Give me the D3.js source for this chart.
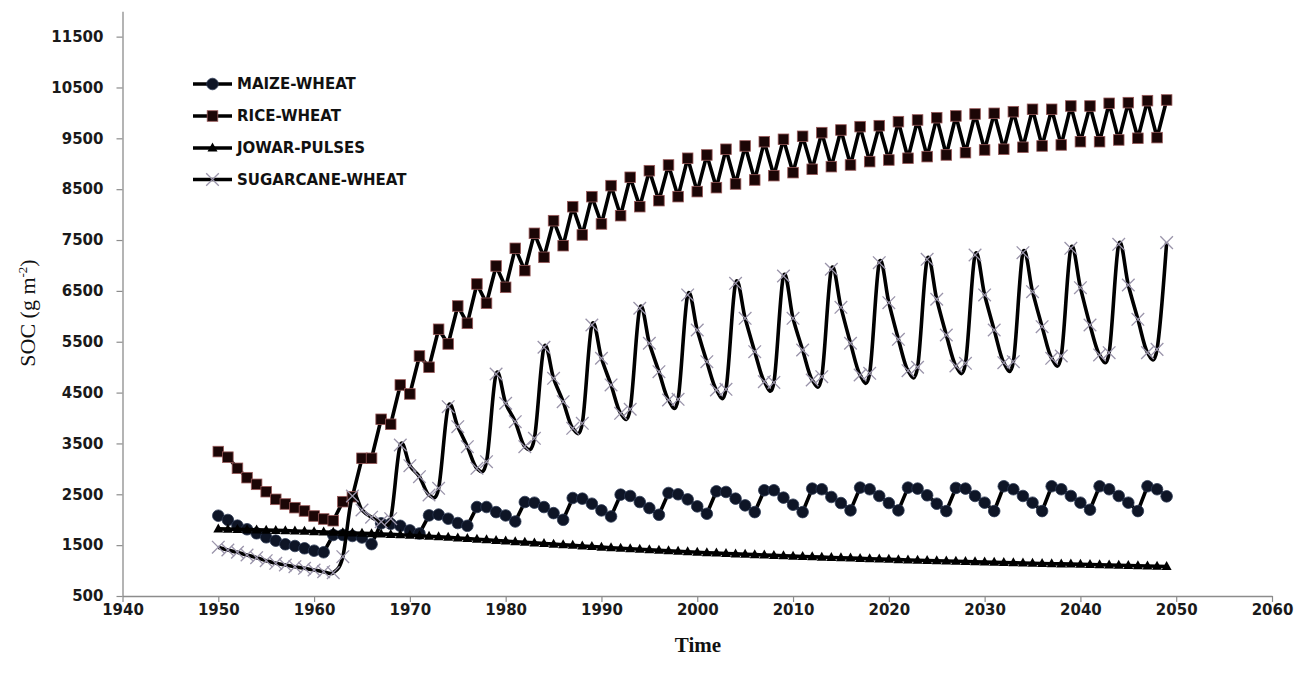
<!DOCTYPE html>
<html>
<head>
<meta charset="utf-8">
<script src="https://cdn.jsdelivr.net/npm/d3@7"></script>
<style>
  html, body { margin: 0; padding: 0; background: #fff; }
  svg { display: block; }
</style>
</head>
<body>
<svg id="chart" width="1297" height="679"></svg>
<script>
// ---------------- DATA ----------------
const firstYear = 1950;
const seriesNames = ["MAIZE-WHEAT", "RICE-WHEAT", "JOWAR-PULSES", "SUGARCANE-WHEAT"];
const xTickValues = [1940, 1950, 1960, 1970, 1980, 1990, 2000, 2010, 2020, 2030, 2040, 2050, 2060];
const yTickValues = [500, 1500, 2500, 3500, 4500, 5500, 6500, 7500, 8500, 9500, 10500, 11500];

// annual values 1950..2049
const maizeWheat = [
  2079, 1995, 1883, 1812, 1733, 1654, 1588, 1517, 1483, 1438,
  1391, 1360, 1700, 1700, 1680, 1650, 1520, 1930, 1920, 1880,
  1790, 1730, 2085, 2100, 2020, 1935, 1880, 2250, 2250, 2150,
  2084, 1965, 2348, 2335, 2249, 2130, 1998, 2427, 2414, 2315,
  2183, 2064, 2493, 2467, 2348, 2229, 2097, 2526, 2500, 2401,
  2262, 2117, 2559, 2546, 2414, 2282, 2150, 2579, 2579, 2434,
  2295, 2150, 2612, 2599, 2447, 2328, 2183, 2632, 2599, 2467,
  2328, 2183, 2632, 2612, 2480, 2315, 2170, 2625, 2612, 2467,
  2335, 2170, 2658, 2599, 2467, 2335, 2170, 2658, 2599, 2467,
  2335, 2196, 2658, 2599, 2467, 2335, 2170, 2658, 2599, 2460
];
const riceWheat = [
  3340, 3230, 3011, 2827, 2696, 2551, 2401, 2309, 2237, 2172,
  2073, 2014, 1981, 2355, 2453, 3208, 3208, 3975, 3877, 4650,
  4473, 5220, 4998, 5745, 5456, 6203, 5862, 6636, 6256, 6990,
  6570, 7337, 6898, 7632, 7160, 7881, 7389, 8156, 7600, 8353,
  7816, 8570, 7979, 8734, 8156, 8864, 8274, 8976, 8353, 9108,
  8452, 9173, 8530, 9285, 8602, 9350, 8681, 9434, 8766, 9481,
  8825, 9540, 8891, 9612, 8943, 9664, 8976, 9730, 9042, 9749,
  9074, 9828, 9108, 9861, 9140, 9906, 9173, 9940, 9218, 9979,
  9271, 9992, 9285, 10024, 9324, 10071, 9350, 10071, 9370, 10136,
  9434, 10136, 9434, 10189, 9468, 10202, 9501, 10241, 9514, 10254
];
const jowarPulses = [
  1820, 1815, 1810, 1805, 1800, 1795, 1790, 1785, 1778, 1772,
  1765, 1758, 1752, 1746, 1740, 1733, 1726, 1719, 1711, 1703,
  1695, 1685, 1675, 1664, 1653, 1641, 1629, 1617, 1605, 1592,
  1580, 1568, 1556, 1544, 1532, 1520, 1508, 1496, 1484, 1472,
  1461, 1450, 1439, 1428, 1418, 1408, 1398, 1388, 1379, 1370,
  1361, 1352, 1344, 1336, 1328, 1320, 1313, 1305, 1298, 1291,
  1284, 1277, 1270, 1264, 1257, 1251, 1245, 1239, 1233, 1227,
  1221, 1215, 1209, 1203, 1198, 1192, 1187, 1182, 1177, 1172,
  1167, 1162, 1157, 1153, 1148, 1144, 1139, 1135, 1131, 1127,
  1123, 1119, 1115, 1110, 1105, 1100, 1095, 1090, 1085, 1080
];
const sugarcaneWheat = [
  1460, 1405, 1360, 1306, 1254, 1194, 1143, 1110, 1077, 1044,
  1011, 978, 958, 1273, 2467, 2191, 2050, 1960, 2020, 3470,
  3063, 2846, 2486, 2618, 4223, 3830, 3437, 3011, 3141, 4866,
  4290, 3928, 3437, 3601, 5391, 4781, 4322, 3798, 3896, 5829,
  5175, 4650, 4093, 4172, 6158, 5470, 4911, 4354, 4368, 6420,
  5731, 5108, 4551, 4564, 6649, 5961, 5305, 4715, 4700, 6793,
  5961, 5338, 4748, 4813, 6925, 6177, 5470, 4846, 4879, 7055,
  6268, 5548, 4931, 4998, 7121, 6335, 5633, 5023, 5076, 7206,
  6420, 5731, 5088, 5108, 7252, 6485, 5796, 5174, 5220, 7337,
  6563, 5829, 5240, 5285, 7416, 6616, 5941, 5286, 5350, 7449
];

const xLabel = "Time";

// ---------------- LAYOUT ----------------
const svg = d3.select("#chart");
const x = d3.scaleLinear().domain([1940, 2060]).range([122.5, 1272]);
const y = d3.scaleLinear().domain([500, 12000]).range([596, 11.2]);

const axisColor = "#8c8c8c";
const tickFont = "'DejaVu Sans', Verdana, sans-serif";

// X axis
const gx = svg.append("g").attr("transform", `translate(0,${y(500)})`)
  .call(d3.axisBottom(x).tickValues(xTickValues).tickFormat(d3.format("d")).tickSize(6).tickPadding(2).tickSizeOuter(0));
gx.select(".domain").attr("stroke", axisColor).attr("stroke-width", 1.3);
gx.selectAll(".tick line").attr("stroke", axisColor).attr("stroke-width", 1.2);
gx.selectAll(".tick text").attr("fill", "#1a1a1a").style("font-family", tickFont)
  .style("font-size", "15px").style("font-weight", "bold");

// Y axis
const gy = svg.append("g").attr("transform", `translate(${x(1940)},0)`)
  .call(d3.axisLeft(y).tickValues(yTickValues).tickFormat(d3.format("d")).tickSize(6).tickPadding(13).tickSizeOuter(0));
gy.select(".domain").attr("stroke", axisColor).attr("stroke-width", 1.3);
gy.selectAll(".tick line").attr("stroke", axisColor).attr("stroke-width", 1.2);
gy.selectAll(".tick text").attr("fill", "#1a1a1a").style("font-family", tickFont)
  .style("font-size", "15px").style("font-weight", "bold");

// Axis titles
svg.append("text")
  .attr("x", 698).attr("y", 652)
  .attr("text-anchor", "middle")
  .style("font-family", "'Liberation Serif', 'Times New Roman', serif")
  .style("font-size", "21px").style("font-weight", "bold")
  .attr("fill", "#111")
  .text(xLabel);

const yTitle = svg.append("text")
  .attr("transform", "translate(35,313) rotate(-90)")
  .attr("text-anchor", "middle")
  .attr("fill", "#111")
  .style("font-size", "22px");
yTitle.append("tspan").style("font-family", "'Liberation Serif', 'Times New Roman', serif").text("SOC (g m");
yTitle.append("tspan").style("font-family", "'Liberation Serif', 'Times New Roman', serif")
  .style("font-size", "13px").attr("dy", "-8").text("-2");
yTitle.append("tspan").style("font-family", "'Liberation Serif', 'Times New Roman', serif")
  .attr("dy", "8").text(")");

// ---------------- SERIES ----------------
const toPts = arr => arr.map((v, i) => [firstYear + i, v]);
const lineStraight = d3.line().x(d => x(d[0])).y(d => y(d[1]));
const lineSmooth = d3.line().x(d => x(d[0])).y(d => y(d[1])).curve(d3.curveCatmullRom.alpha(0));

const seriesDefs = [
  { name: seriesNames[0], data: maizeWheat, marker: "circle", smooth: false },
  { name: seriesNames[1], data: riceWheat, marker: "square", smooth: false },
  { name: seriesNames[2], data: jowarPulses, marker: "triangle", smooth: false },
  { name: seriesNames[3], data: sugarcaneWheat, marker: "cross", smooth: true }
];

function drawMarker(g, type, cx, cy) {
  if (type === "circle") {
    g.append("circle").attr("cx", cx).attr("cy", cy).attr("r", 5.8)
      .attr("fill", "#0e1526").attr("stroke", "#2b3752").attr("stroke-width", 0.8);
  } else if (type === "square") {
    g.append("rect").attr("x", cx - 5.3).attr("y", cy - 5.3).attr("width", 10.6).attr("height", 10.6)
      .attr("fill", "#1b0606").attr("stroke", "#9a5a5a").attr("stroke-width", 0.8);
  } else if (type === "triangle") {
    g.append("path").attr("d", `M${cx},${cy - 5.5}L${cx + 5},${cy + 3.5}L${cx - 5},${cy + 3.5}Z`)
      .attr("fill", "#000");
  } else if (type === "cross") {
    const s = 6.3;
    g.append("path").attr("d", `M${cx - s},${cy - s}L${cx + s},${cy + s}M${cx - s},${cy + s}L${cx + s},${cy - s}`)
      .attr("stroke", "#9a94aa").attr("stroke-width", 1.3).attr("fill", "none");
  }
}

seriesDefs.forEach(s => {
  const pts = toPts(s.data);
  const g = svg.append("g");
  g.append("path").datum(pts)
    .attr("d", s.smooth ? lineSmooth : lineStraight)
    .attr("fill", "none").attr("stroke", "#000").attr("stroke-width", 3.6)
    .attr("stroke-linejoin", "round");
  pts.forEach(p => drawMarker(g, s.marker, x(p[0]), y(p[1])));
});

// ---------------- LEGEND ----------------
const legendRows = [84, 116, 148, 179.5];
const lg = svg.append("g");
seriesDefs.forEach((s, i) => {
  const ly = legendRows[i];
  lg.append("line").attr("x1", 193).attr("x2", 232).attr("y1", ly).attr("y2", ly)
    .attr("stroke", "#000").attr("stroke-width", 3.6);
  drawMarker(lg, s.marker, 212.5, ly);
  lg.append("text").attr("x", 237).attr("y", ly).attr("dy", "0.36em")
    .style("font-family", "'DejaVu Sans', Verdana, sans-serif")
    .style("font-size", "15px").style("font-weight", "bold")
    .attr("fill", "#111")
    .text(s.name);
});
</script>
</body>
</html>
